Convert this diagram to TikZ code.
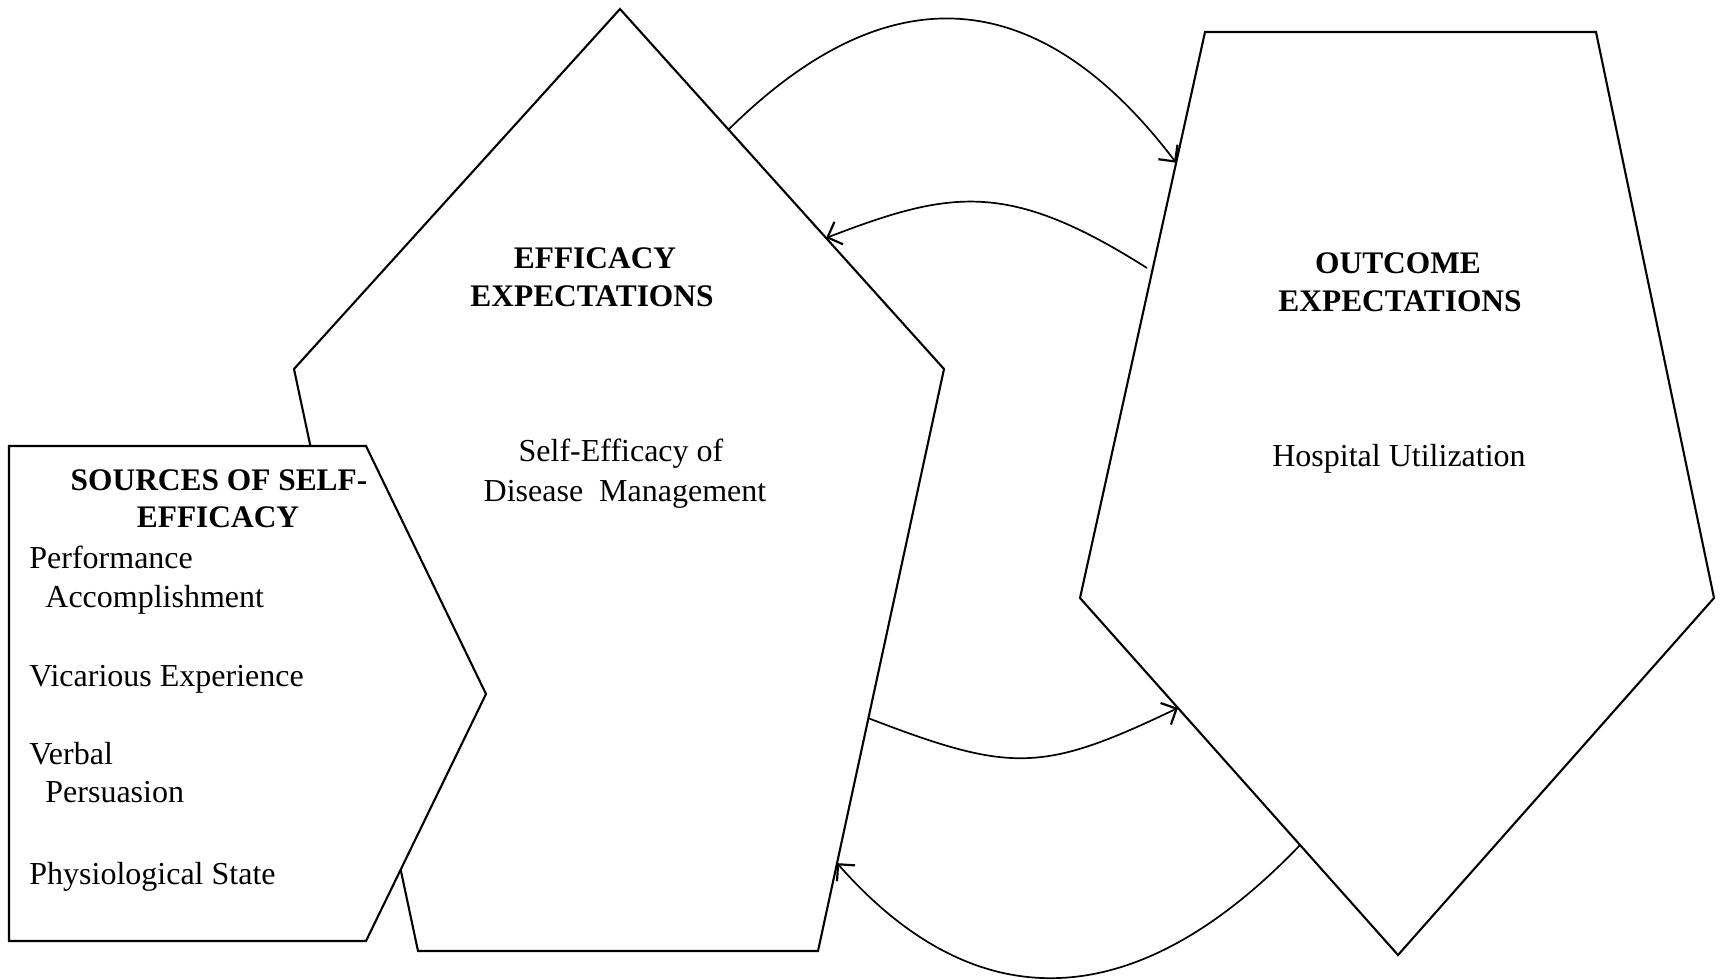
\documentclass[tikz,border=0pt]{standalone}
\usepackage{fontspec}
\setmainfont{Liberation Serif}
\usetikzlibrary{arrows.meta,calc}
\begin{document}
\begin{tikzpicture}[x=0.5pt,y=-0.5pt,
  shapeline/.style={line width=1.05pt, line join=miter},
  link/.style={line width=0.85pt, -{Straight Barb[length=6pt,width=12pt,line width=1.1pt]}},
  hd/.style={font=\fontsize{15.7}{19}\selectfont\bfseries, inner sep=0pt, anchor=base},
  tx/.style={font=\fontsize{16}{19}\selectfont, inner sep=0pt, anchor=base},
  item/.style={tx, anchor=base west}]
\useasboundingbox (0,0) rectangle (1722,979);
% efficacy pentagon
\coordinate (E1) at (620,9);
\coordinate (E2) at (944,369);
\coordinate (E3) at (818,951);
\coordinate (E4) at (418,951);
\coordinate (E5) at (294,369);
\draw[shapeline] (E1)--(E2)--(E3)--(E4)--(E5)--cycle;
% sources box
\coordinate (S1) at (9,446);
\coordinate (S2) at (366,446);
\coordinate (S3) at (486,694);
\coordinate (S4) at (366,941);
\coordinate (S5) at (9,941);
\draw[shapeline, fill=white] (S1)--(S2)--(S3)--(S4)--(S5)--cycle;
% outcome pentagon
\coordinate (O1) at (1205,32);
\coordinate (O2) at (1596,32);
\coordinate (O3) at (1714,598);
\coordinate (O4) at (1398,955);
\coordinate (O5) at (1080,598);
\draw[shapeline] (O1)--(O2)--(O3)--(O4)--(O5)--cycle;
% connector ends
\coordinate (a1s) at ($(E1)!0.335!(E2)$);
\coordinate (a1e) at ($(O1)!0.231!(O5)$);
\coordinate (a2s) at (1147,268);
\coordinate (a2e) at ($(E1)!0.636!(E2)$);
\coordinate (a3s) at ($(E2)!0.6!(E3)$);
\coordinate (a3e) at ($(O5)!0.308!(O4)$);
\coordinate (a4s) at ($(O5)!0.692!(O4)$);
\coordinate (a4e) at ($(E2)!0.849!(E3)$);
\draw[link] (a1s) .. controls (912,-52) and (1061,11) .. (a1e);
\draw[link] (a2s) .. controls (1008,180) and (951,190) .. (a2e);
\draw[link] (a3s) .. controls (1011,773) and (1042,773) .. (a3e);
\draw[link] (a4s) .. controls (1145,1007) and (984,1030) .. (a4e);
% texts
\node[hd] (effA) at (595,268) {EFFICACY};
\node[hd] (effB) at (592,306) {EXPECTATIONS};
\node[tx] (effC) at (621,461) {Self-Efficacy of};
\node[tx] (effD) at (625,501) {Disease\ \ Management};
\node[hd] (outA) at (1398,273) {OUTCOME};
\node[hd] (outB) at (1400,311) {EXPECTATIONS};
\node[tx] (outC) at (1399,466) {Hospital Utilization};
\node[hd] (srcA) at (219,490) {SOURCES OF SELF-};
\node[hd] (srcB) at (218,527) {EFFICACY};
\node[item] (i1) at (29,568) {Performance};
\node[item] (i2) at (45,607) {Accomplishment};
\node[item] (i3) at (29,686) {Vicarious Experience};
\node[item] (i4) at (29,764) {Verbal};
\node[item] (i5) at (45,802) {Persuasion};
\node[item] (i6) at (29,884) {Physiological State};
\end{tikzpicture}
\end{document}
